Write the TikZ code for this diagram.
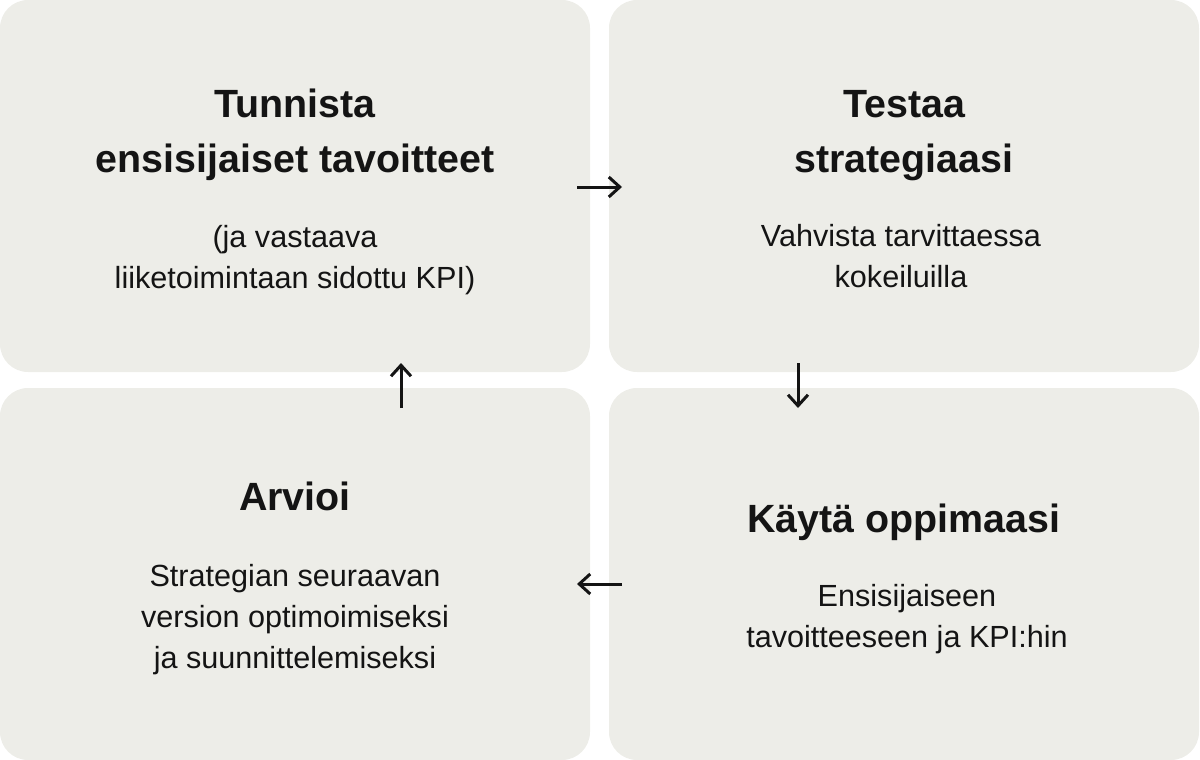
\documentclass[tikz,border=0pt]{standalone}
\usepackage{fontspec}
\setmainfont{Liberation Sans}
\usetikzlibrary{arrows.meta}
\definecolor{boxfill}{RGB}{237,237,232}
\definecolor{ink}{RGB}{20,20,20}
\tikzset{
  panel/.style={fill=boxfill, draw=none, rounded corners=28pt, minimum width=590pt, minimum height=372pt, inner sep=0pt},
  headtext/.style={text=ink, align=center, anchor=base, inner sep=0pt, font=\fontsize{39.4}{55}\selectfont\bfseries},
  bodytext/.style={text=ink, align=center, anchor=base, inner sep=0pt, font=\fontsize{30.6}{41}\selectfont},
  flow/.style={draw=ink, line width=3pt, -{Straight Barb[length=11pt,width=20pt]}}
}
\begin{document}
\begin{tikzpicture}[x=1pt,y=-1pt]
\useasboundingbox (0,0) rectangle (1200,760);
\node[panel] (b1) at (295,186) {};
\node[panel] (b2) at (904,186) {};
\node[panel] (b3) at (295,574) {};
\node[panel] (b4) at (904,574) {};

\node[headtext] (t1) at (295,172) {Tunnista\\ensisijaiset tavoitteet};
\node[bodytext] (d1) at (295,288) {(ja vastaava\\liiketoimintaan sidottu KPI)};

\node[headtext] (t2) at (904,172) {Testaa\\strategiaasi};
\node[bodytext] (d2) at (901,287) {Vahvista tarvittaessa\\kokeiluilla};

\node[headtext] (t3) at (295,510) {Arvioi};
\node[bodytext] (d3) at (295,668) {Strategian seuraavan\\version optimoimiseksi\\ja suunnittelemiseksi};

\node[headtext] (t4) at (904,532) {Käytä oppimaasi};
\node[bodytext] (d4) at (907,647) {Ensisijaiseen\\tavoitteeseen ja KPI:hin};

\coordinate (r1) at (577,187);
\coordinate (r2) at (622,187);
\coordinate (dn1) at (798,363);
\coordinate (dn2) at (798,408);
\coordinate (l1) at (622,584);
\coordinate (l2) at (577,584);
\coordinate (u1) at (401,408);
\coordinate (u2) at (401,363);

\draw[flow] (r1) -- (r2);
\draw[flow] (dn1) -- (dn2);
\draw[flow] (l1) -- (l2);
\draw[flow] (u1) -- (u2);
\end{tikzpicture}
\end{document}
